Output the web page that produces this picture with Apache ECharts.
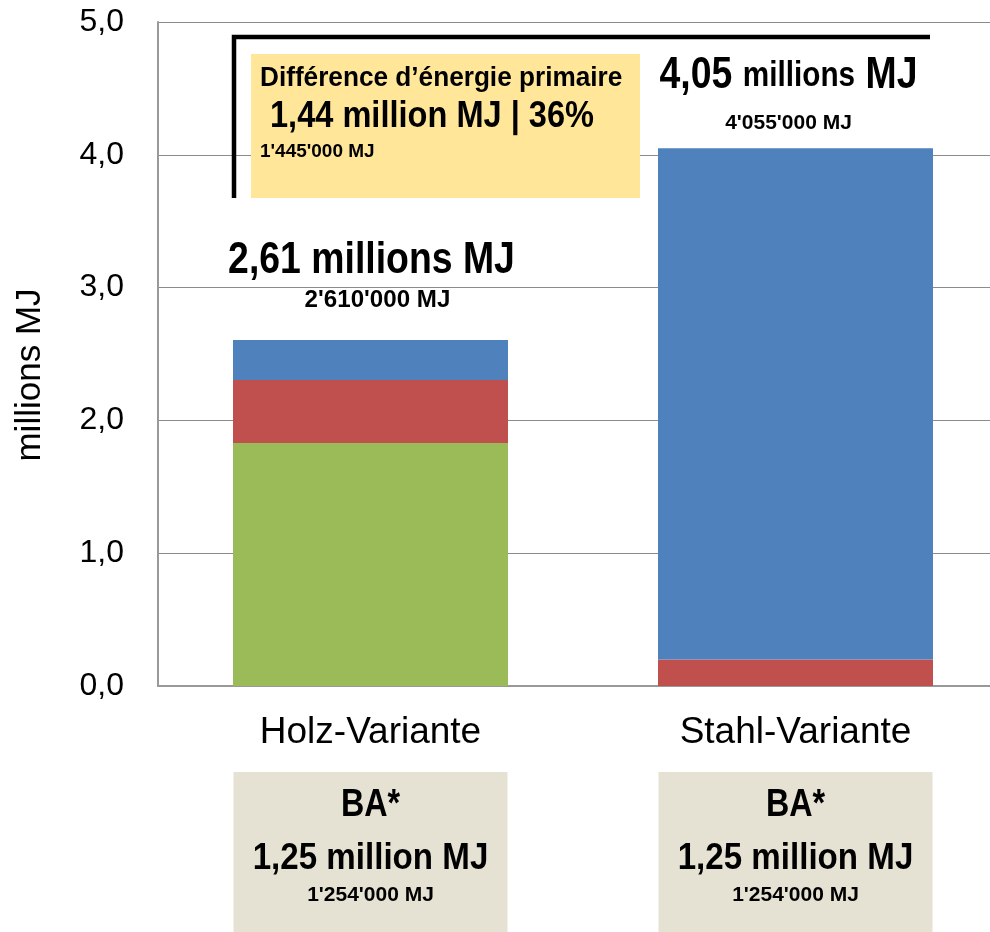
<!DOCTYPE html>
<html>
<head>
<meta charset="utf-8">
<script src="https://cdn.jsdelivr.net/npm/echarts@6/dist/echarts.min.js"></script>
<style>
  html, body { margin: 0; padding: 0; background: #fff; overflow: hidden; width: 990px; height: 932px; }
  /* la zone de tracé dépasse à droite du cadre visible */
  #container { width: 1008px; height: 932px; }
</style>
</head>
<body>
<div id="container"></div>
<script>
var categories = ['Holz-Variante', 'Stahl-Variante'];
var gruen = [1.83, 0];
var rot = [0.475, 0.20];
var blau = [0.30, 3.85];
var totaux = [2610000, 4055000];
var totauxTexte = ['2,61', '4,05'];
var baTotaux = [1254000, 1254000];
var baTexte = ['1,25', '1,25'];
var diffTotal = 1445000;
var diffTexte = '1,44';
var diffPct = 36;

var police = '"Liberation Sans", Arial, sans-serif';

function milliers(n) {
    return String(n).replace(/\B(?=(\d{3})+(?!\d))/g, "'");
}

// texte gras "étroit" : Liberation Sans Bold compressé horizontalement
function texte(x, y, contenu, taille, echelle, align, rich) {
    var st = {
        text: contenu, fontSize: taille, fontWeight: 'bold', fontFamily: police, fill: '#000',
        align: align || 'center', verticalAlign: 'middle'
    };
    if (rich) st.rich = rich;
    return { type: 'text', x: x, y: y, scaleX: echelle, style: st, z: 10 };
}

var chartContainer = document.getElementById('container');
var chart = echarts.init(chartContainer);

var option = {
    animation: false,
    grid: { left: 158, top: 22, right: 0, bottom: 246, containLabel: false },
    xAxis: {
        type: 'category',
        data: categories,
        axisLine: { lineStyle: { color: '#999', width: 2 } },
        axisTick: { show: false },
        axisLabel: { color: '#000', fontSize: 37, fontFamily: police, margin: 28 }
    },
    yAxis: {
        type: 'value',
        min: 0,
        max: 5,
        interval: 1,
        name: 'millions MJ',
        nameLocation: 'middle',
        nameRotate: 90,
        nameGap: 110,
        nameTextStyle: { color: '#000', fontSize: 35, fontFamily: police, padding: [0, 42, 0, 0] },
        axisLine: { show: true, lineStyle: { color: '#999', width: 2 } },
        axisTick: { show: false },
        axisLabel: {
            color: '#000', fontSize: 32, fontFamily: police, margin: 34,
            formatter: function (v) { return v.toFixed(1).replace('.', ','); }
        },
        splitLine: { lineStyle: { color: '#8c8c8c', width: 1 } }
    },
    series: [
        {
            name: 'vert', type: 'bar', stack: 'total', data: gruen, barWidth: 275,
            itemStyle: { color: '#9BBB59' }
        },
        {
            name: 'rouge', type: 'bar', stack: 'total', data: rot, barWidth: 275,
            itemStyle: { color: '#C0504D' }
        },
        {
            name: 'bleu', type: 'bar', stack: 'total', data: blau, barWidth: 275,
            itemStyle: { color: '#4F81BD' }
        }
    ]
};

chart.setOption(option);

// annotations : crochet, encadré jaune
var graphics = [
    {
        type: 'polyline',
        shape: { points: [[234, 198], [234, 37], [930, 37]] },
        style: { stroke: '#000', lineWidth: 4.5, fill: null }
    },
    {
        type: 'rect',
        shape: { x: 251, y: 54, width: 389, height: 144 },
        style: { fill: '#FFE699' }
    },
    texte(260, 78, 'Différence d\u2019énergie primaire', 28, 0.935, 'left'),
    texte(270, 117, diffTexte + ' million MJ | ' + diffPct + '%', 37, 0.88, 'left'),
    texte(260, 152, milliers(diffTotal) + ' MJ', 19, 1, 'left')
];

// totaux au-dessus des barres
var decalX = [1, -7];
categories.forEach(function (c, i) {
    var total = gruen[i] + rot[i] + blau[i];
    var p = chart.convertToPixel({ gridIndex: 0 }, [c, total]);
    if (i === 0) {
        graphics.push(texte(p[0] + decalX[i], p[1] - 79, totauxTexte[i] + ' millions MJ', 44, 0.85));
        graphics.push(texte(p[0] + decalX[i] + 6, p[1] - 39, milliers(totaux[i]) + ' MJ', 23, 1.05));
    } else {
        graphics.push(texte(p[0] + decalX[i], p[1] - 72,
            '{b|' + totauxTexte[i] + '} {m|millions} {b|MJ}', 44, 0.85, 'center', {
                b: { fontSize: 44, fontWeight: 'bold', fontFamily: police, fill: '#000' },
                m: { fontSize: 35, fontWeight: 'bold', fontFamily: police, fill: '#000' }
            }));
        graphics.push(texte(p[0] + decalX[i], p[1] - 25, milliers(totaux[i]) + ' MJ', 21, 1));
    }
});

// boîtes BA sous les catégories
categories.forEach(function (c, i) {
    var cx = chart.convertToPixel({ xAxisIndex: 0 }, c);
    graphics.push({
        type: 'rect',
        shape: { x: cx - 137, y: 772, width: 274, height: 160 },
        style: { fill: '#E5E2D3' }
    });
    graphics.push(texte(cx, 806, 'BA*', 38, 0.85));
    graphics.push(texte(cx, 859, baTexte[i] + ' million MJ', 36, 0.92));
    graphics.push(texte(cx, 895, milliers(baTotaux[i]) + ' MJ', 21, 1));
});

chart.setOption({ graphic: graphics });
</script>
</body>
</html>
